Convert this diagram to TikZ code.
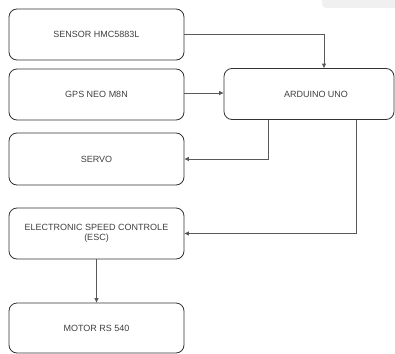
\documentclass[tikz,border=0pt]{standalone}
\usepackage{fontspec}
\setmainfont{Liberation Sans}
\usetikzlibrary{arrows.meta}
\begin{document}
\begin{tikzpicture}[x=1pt,y=-1pt,
  blk/.style={draw=black!80, line width=0.8pt, rounded corners=8pt, fill=white, align=center, font=\fontsize{9}{10.5}\selectfont, text=black!75, inner sep=0pt},
  conn/.style={draw=black!65, line width=0.9pt, -{Triangle[length=4.5pt,width=4pt]}}]
\useasboundingbox (0,0) rectangle (395,353);
\fill[white] (0,0) rectangle (395,353);
\fill[black!6, rounded corners=4pt] (322,-5) rectangle (400,8);
\node[blk, minimum width=175pt, minimum height=51pt] (sensor) at (96.5,34.5) {SENSOR HMC5883L};
\node[blk, minimum width=175pt, minimum height=51pt] (gps) at (96.5,94.5) {GPS NEO M8N};
\node[blk, minimum width=170pt, minimum height=51pt] (ard) at (309,94) {\hspace*{14pt}ARDUINO UNO};
\node[blk, minimum width=175pt, minimum height=52pt] (servo) at (96.5,159) {SERVO};
\node[blk, minimum width=175pt, minimum height=51pt] (esc) at (96.5,233.5) {ELECTRONIC SPEED CONTROLE\\(ESC)};
\node[blk, minimum width=175pt, minimum height=50pt] (motor) at (96.5,328) {MOTOR RS 540};
\coordinate (s1) at (324,0);
\coordinate (a1) at (268,0);
\coordinate (a2) at (356,0);
\draw[conn] (sensor.east) -| (s1 |- ard.north);
\draw[conn] (gps.east |- 0,93) -- (ard.west |- 0,93);
\draw[conn] (ard.south -| a1) |- (servo.east);
\draw[conn] (ard.south -| a2) |- (esc.east);
\draw[conn] (esc.south) -- (motor.north);
\end{tikzpicture}
\end{document}
